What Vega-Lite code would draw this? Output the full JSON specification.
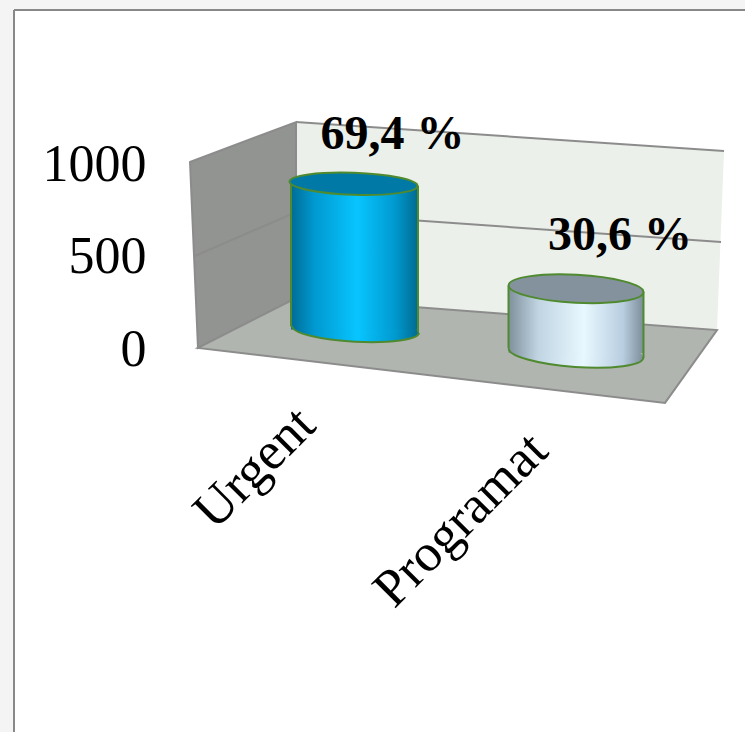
{
  "$schema": "https://vega.github.io/schema/vega-lite/v6.json",
  "width": 731,
  "height": 722,
  "autosize": {"type": "none"},
  "padding": {"left": 14, "top": 10, "right": 0, "bottom": 0},
  "background": "#f4f4f4",
  "view": {"fill": "#ffffff", "stroke": null},
  "config": {"font": "Liberation Serif"},
  "datasets": {
    "cylinders": [
      {"category": "Urgent", "count": 694, "share": "69,4 %"},
      {"category": "Programat", "count": 306, "share": "30,6 %"}
    ],
    "frame": [
      {"part": "side", "seq": 1, "across": 24.08, "level": 1016},
      {"part": "side", "seq": 2, "across": 38.58, "level": 1232},
      {"part": "side", "seq": 3, "across": 38.58, "level": 281},
      {"part": "side", "seq": 4, "across": 25.17, "level": 11},
      {"part": "back", "seq": 1, "across": 38.58, "level": 1232},
      {"part": "back", "seq": 2, "across": 97.13, "level": 1076},
      {"part": "back", "seq": 3, "across": 96.17, "level": 108},
      {"part": "back", "seq": 4, "across": 38.58, "level": 281},
      {"part": "floor", "seq": 1, "across": 25.17, "level": 11},
      {"part": "floor", "seq": 2, "across": 38.58, "level": 281},
      {"part": "floor", "seq": 3, "across": 96.17, "level": 108},
      {"part": "floor", "seq": 4, "across": 89.06, "level": -286},
      {"part": "grid", "seq": 1, "across": 24.76, "level": 508},
      {"part": "grid", "seq": 2, "across": 38.58, "level": 746},
      {"part": "grid", "seq": 3, "across": 96.72, "level": 584}
    ]
  },
  "resolve": {"scale": {"x": "independent", "y": "independent"}},
  "layer": [
    {
      "data": {"name": "frame"},
      "encoding": {
        "x": {"field": "across", "type": "quantitative", "scale": {"domain": [0, 100], "nice": false, "zero": false}, "axis": null},
        "y": {
          "field": "level",
          "type": "quantitative",
          "scale": {"domain": [-2065, 1838], "nice": false, "zero": false},
          "axis": {
            "values": [0, 500, 1000],
            "format": "d",
            "title": null,
            "domain": false,
            "ticks": false,
            "grid": false,
            "offset": -132,
            "labelPadding": 0,
            "labelOffset": -1,
            "labelFont": "Liberation Serif",
            "labelFontSize": 52,
            "labelColor": "#000000",
            "encode": {"labels": {"update": {"x": {"signal": "datum.value === 0 ? 7 : datum.value === 500 ? 2 : 0"}}}}
          }
        },
        "order": {"field": "seq", "type": "quantitative"}
      },
      "layer": [
        {
          "transform": [{"filter": "datum.part === 'back'"}],
          "mark": {"type": "line", "interpolate": "linear-closed", "fill": "#ebf0ea", "stroke": null}
        },
        {
          "transform": [{"filter": "datum.part === 'side'"}],
          "mark": {"type": "line", "interpolate": "linear-closed", "fill": "#929491", "stroke": "#8c8c8c", "strokeWidth": 2}
        },
        {
          "transform": [{"filter": "datum.part === 'floor'"}],
          "mark": {"type": "line", "interpolate": "linear-closed", "fill": "#b0b5af", "stroke": "#8c8c8c", "strokeWidth": 2}
        },
        {
          "transform": [{"filter": "datum.part === 'grid'"}],
          "mark": {"type": "line", "stroke": "#8c8c8c", "strokeWidth": 2}
        },
        {
          "transform": [{"filter": "datum.part === 'back'"}, {"filter": "datum.seq <= 2"}],
          "mark": {"type": "line", "stroke": "#8c8c8c", "strokeWidth": 2}
        },
        {
          "mark": {"type": "rule", "stroke": "#888888", "strokeWidth": 2},
          "encoding": {"x": {"datum": 0}, "y": null, "order": null}
        },
        {
          "mark": {"type": "rule", "stroke": "#888888", "strokeWidth": 2},
          "encoding": {"y": {"datum": 1838}, "x": null, "order": null}
        }
      ]
    },
    {
      "data": {"name": "cylinders"},
      "transform": [{"filter": "datum.category === 'Urgent'"}],
      "encoding": {
        "x": {"field": "category", "type": "nominal", "sort": null, "scale": {"domain": ["Urgent", "Programat"], "range": [229.75, 672.75], "paddingInner": 0, "paddingOuter": 0}, "axis": null},
        "y": {"field": "count", "type": "quantitative", "scale": {"domain": [0, 1000], "range": [319.5, 109.5], "nice": false, "zero": false}, "axis": null}
      },
      "layer": [
        {
          "mark": {"type": "point", "filled": true, "opacity": 1, "xOffset": 1, "shape": "M -1 0 A 1 0.192 0 1 0 1 0 A 1 0.192 0 1 0 -1 0 Z", "size": 16129, "angle": 3, "stroke": null, "fill": {"gradient": "linear", "x1": 0, "x2": 1, "y1": 0, "y2": 0, "stops": [{"offset": 0, "color": "#006c95"}, {"offset": 0.18, "color": "#0098cf"}, {"offset": 0.52, "color": "#08c5ff"}, {"offset": 0.82, "color": "#0099cf"}, {"offset": 1, "color": "#006a8f"}]}},
          "encoding": {"y": {"datum": 0}}
        },
        {
          "mark": {"type": "bar", "width": 127, "stroke": null, "opacity": 1, "fill": {"gradient": "linear", "x1": 0, "x2": 1, "y1": 0, "y2": 0, "stops": [{"offset": 0, "color": "#006c95"}, {"offset": 0.18, "color": "#0098cf"}, {"offset": 0.52, "color": "#08c5ff"}, {"offset": 0.82, "color": "#0099cf"}, {"offset": 1, "color": "#006a8f"}]}},
          "encoding": {"y2": {"datum": 0}}
        },
        {
          "mark": {"type": "point", "filled": false, "opacity": 1, "xOffset": 1, "shape": "M -1 0 A 1 0.192 0 0 0 1 0", "size": 16129, "angle": 3, "stroke": "#4f8a2e", "strokeWidth": 2, "fill": "transparent"},
          "encoding": {"y": {"datum": 0}}
        },
        {
          "mark": {"type": "rule", "xOffset": -63.5, "yOffset": -2, "y2Offset": -3, "stroke": "#4f8a2e", "strokeWidth": 2},
          "encoding": {"y2": {"datum": 0}}
        },
        {
          "mark": {"type": "rule", "xOffset": 63.5, "yOffset": 2, "y2Offset": 3, "stroke": "#4f8a2e", "strokeWidth": 2},
          "encoding": {"y2": {"datum": 0}}
        },
        {
          "mark": {"type": "point", "filled": true, "opacity": 1, "xOffset": -1, "shape": "M -1 0 A 1 0.172 0 1 0 1 0 A 1 0.172 0 1 0 -1 0 Z", "size": 16384, "angle": 2, "fill": "#0079a6", "stroke": "#4f8a2e", "strokeWidth": 2}
        },
        {
          "mark": {"type": "text", "align": "center", "baseline": "alphabetic", "font": "Liberation Serif", "fontSize": 48, "fontWeight": "bold", "color": "#000000", "xOffset": 38, "yOffset": -35},
          "encoding": {"text": {"field": "share"}}
        },
        {
          "mark": {"type": "text", "align": "right", "baseline": "middle", "angle": 315, "font": "Liberation Serif", "fontSize": 53, "color": "#000000", "xOffset": -48, "yOffset": 87},
          "encoding": {"y": {"datum": 0}, "text": {"field": "category"}}
        }
      ]
    },
    {
      "data": {"name": "cylinders"},
      "transform": [{"filter": "datum.category === 'Programat'"}],
      "encoding": {
        "x": {"field": "category", "type": "nominal", "sort": null, "scale": {"domain": ["Urgent", "Programat"], "range": [229.75, 672.75], "paddingInner": 0, "paddingOuter": 0}, "axis": null},
        "y": {"field": "count", "type": "quantitative", "scale": {"domain": [0, 1000], "range": [343, 133], "nice": false, "zero": false}, "axis": null}
      },
      "layer": [
        {
          "mark": {"type": "point", "filled": true, "opacity": 1, "shape": "M -1 0 A 1 0.207 0 1 0 1 0 A 1 0.207 0 1 0 -1 0 Z", "size": 18225, "angle": 4, "stroke": null, "fill": {"gradient": "linear", "x1": 0, "x2": 1, "y1": 0, "y2": 0, "stops": [{"offset": 0, "color": "#7f909c"}, {"offset": 0.22, "color": "#c0d4e2"}, {"offset": 0.56, "color": "#e8f8ff"}, {"offset": 0.85, "color": "#b8cde0"}, {"offset": 1, "color": "#7c8c98"}]}},
          "encoding": {"y": {"datum": 0}}
        },
        {
          "mark": {"type": "bar", "width": 135, "stroke": null, "opacity": 1, "fill": {"gradient": "linear", "x1": 0, "x2": 1, "y1": 0, "y2": 0, "stops": [{"offset": 0, "color": "#7f909c"}, {"offset": 0.22, "color": "#c0d4e2"}, {"offset": 0.56, "color": "#e8f8ff"}, {"offset": 0.85, "color": "#b8cde0"}, {"offset": 1, "color": "#7c8c98"}]}},
          "encoding": {"y2": {"datum": 0}}
        },
        {
          "mark": {"type": "point", "filled": false, "opacity": 1, "shape": "M -1 0 A 1 0.207 0 0 0 1 0", "size": 18225, "angle": 4, "stroke": "#4f8a2e", "strokeWidth": 2, "fill": "transparent"},
          "encoding": {"y": {"datum": 0}}
        },
        {
          "mark": {"type": "rule", "xOffset": -67.5, "yOffset": -3, "y2Offset": -5, "stroke": "#4f8a2e", "strokeWidth": 2},
          "encoding": {"y2": {"datum": 0}}
        },
        {
          "mark": {"type": "rule", "xOffset": 67.5, "yOffset": 3, "y2Offset": 5, "stroke": "#4f8a2e", "strokeWidth": 2},
          "encoding": {"y2": {"datum": 0}}
        },
        {
          "mark": {"type": "point", "filled": true, "opacity": 1, "shape": "M -1 0 A 1 0.207 0 1 0 1 0 A 1 0.207 0 1 0 -1 0 Z", "size": 18225, "angle": 3, "fill": "#84929e", "stroke": "#4f8a2e", "strokeWidth": 2}
        },
        {
          "mark": {"type": "text", "align": "center", "baseline": "alphabetic", "font": "Liberation Serif", "fontSize": 48, "fontWeight": "bold", "color": "#000000", "xOffset": 44, "yOffset": -38.5},
          "encoding": {"text": {"field": "share"}}
        },
        {
          "mark": {"type": "text", "align": "right", "baseline": "middle", "angle": 315, "font": "Liberation Serif", "fontSize": 53, "color": "#000000", "xOffset": -37, "yOffset": 89},
          "encoding": {"y": {"datum": 0}, "text": {"field": "category"}}
        }
      ]
    }
  ]
}
